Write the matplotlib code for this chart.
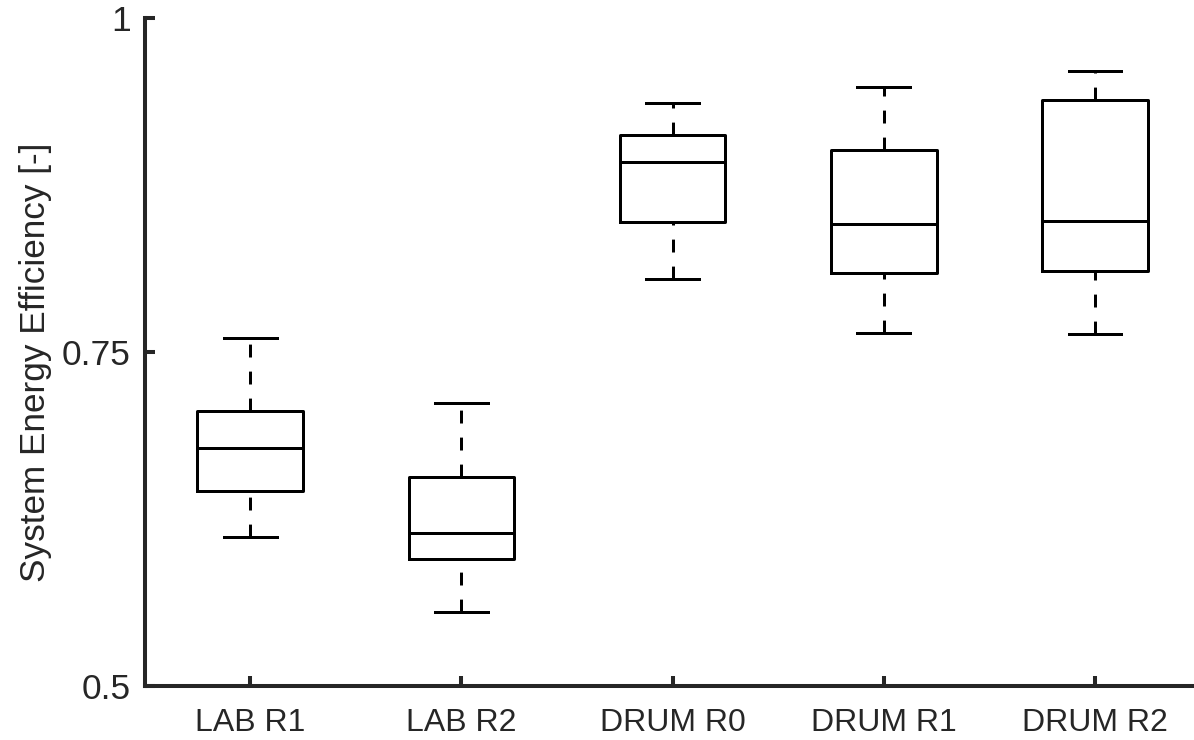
import matplotlib
matplotlib.use('Agg')
import matplotlib.pyplot as plt

# box statistics
groups = ['LAB R1', 'LAB R2', 'DRUM R0', 'DRUM R1', 'DRUM R2']
whis_lo = [0.6115, 0.5554, 0.8046, 0.7642, 0.7635]
q1 = [0.6460, 0.5950, 0.8473, 0.8091, 0.8106]
med = [0.6780, 0.6145, 0.8922, 0.8458, 0.8480]
q3 = [0.7058, 0.6564, 0.9124, 0.9012, 0.9386]
whis_hi = [0.7605, 0.7118, 0.9364, 0.9484, 0.9603]

yticks = [0.5, 0.75, 1]
ytick_labels = ['0.5', '0.75', '1']

plt.rcParams['font.family'] = ['Liberation Sans', 'DejaVu Sans']
txt_col = '#262626'

stats = []
for i, name in enumerate(groups):
    stats.append({'label': name, 'whislo': whis_lo[i], 'q1': q1[i], 'med': med[i],
                  'q3': q3[i], 'whishi': whis_hi[i], 'fliers': []})

fig = plt.figure(figsize=(11.94, 7.40), dpi=100)
ax = fig.add_axes([144.5 / 1194, 54 / 740, 1056 / 1194, 668 / 740])

lw = 2.16
bp = ax.bxp(stats, positions=range(1, 6), widths=0.5, showfliers=False,
            boxprops=dict(color='black', linewidth=lw),
            medianprops=dict(color='black', linewidth=lw),
            whiskerprops=dict(color='black', linewidth=lw, linestyle=(0, (4.3, 4.7))),
            capprops=dict(color='black', linewidth=lw))

# lower whiskers are drawn from the cap upwards (dash touches the cap)
for w in bp['whiskers'][::2]:
    x, y = w.get_data()
    w.set_data(x[::-1], y[::-1])

ax.set_xlim(0.5, 5.5)
ax.set_ylim(0.5, 1)
ax.set_yticks(yticks)
ax.set_yticklabels(ytick_labels)
ax.set_xticks(range(1, 6))
ax.set_xticklabels(groups)

for s in ['top', 'right']:
    ax.spines[s].set_visible(False)
for s in ['left', 'bottom']:
    ax.spines[s].set_linewidth(2.9)
    ax.spines[s].set_color(txt_col)

ax.tick_params(direction='in', length=7, width=2.9, color=txt_col,
               labelcolor=txt_col, labelsize=25.5)
ax.tick_params(axis='x', pad=16, labelsize=23)
ax.tick_params(axis='y', pad=10)
ax.set_ylabel('System Energy Efficiency [-]', fontsize=25.3, color=txt_col)
ax.yaxis.set_label_coords(-0.088, 0.485)

fig.savefig('out.png', dpi=100)
